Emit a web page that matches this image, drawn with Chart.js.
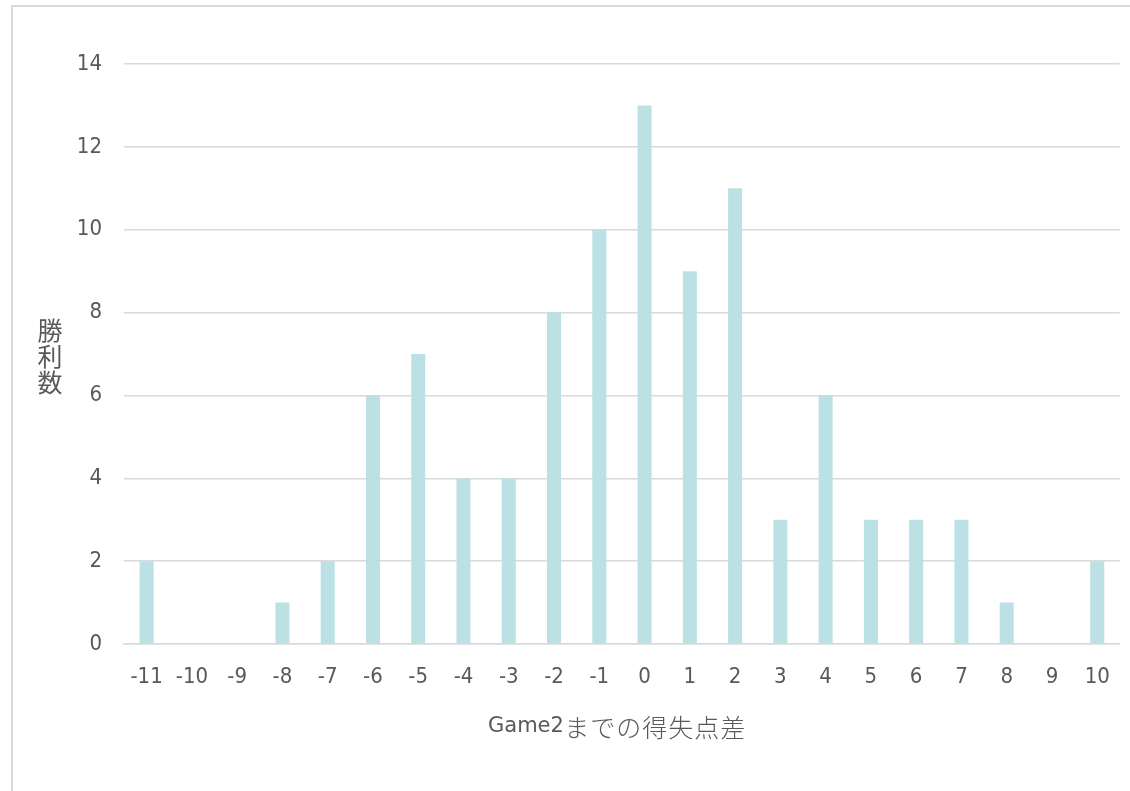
<!DOCTYPE html>
<html>
<head>
<meta charset="utf-8">
<script src="https://cdn.jsdelivr.net/npm/chart.js@4"></script>
<style>
  html, body { margin: 0; padding: 0; background: #ffffff; }
  #wrap { width: 1130px; height: 791px; position: relative; }
</style>
</head>
<body>
<div id="wrap"><canvas id="c" width="1130" height="791"></canvas></div>
<script>
// 得失点差ごとの勝利数
const categories = ['-11','-10','-9','-8','-7','-6','-5','-4','-3','-2','-1','0','1','2','3','4','5','6','7','8','9','10'];
const wins       = [2, 0, 0, 1, 2, 6, 7, 4, 4, 8, 10, 13, 9, 11, 3, 6, 3, 3, 3, 1, 0, 2];
const yTicks     = [0, 2, 4, 6, 8, 10, 12, 14];
const xTitleLatin = 'Game2';
const xTitleCjk   = 'までの得失点差';
const yTitle = ['勝', '利', '数'];

const TEXT = '#595959';
const GRID = '#d9d9d9';
const LATIN = '"DejaVu Sans Condensed", "DejaVu Sans", Verdana, sans-serif';
const LATIN_WIDE = '"DejaVu Sans", Verdana, sans-serif';
const CJK = '"Noto Sans CJK JP", "DejaVu Sans", sans-serif';

// outer frame and axis titles
const decor = {
  id: 'decor',
  beforeDraw(chart) {
    const ctx = chart.ctx;
    ctx.save();
    ctx.fillStyle = '#ffffff';
    ctx.fillRect(0, 0, chart.width, chart.height);
    ctx.strokeStyle = '#d9d9d9';
    ctx.lineWidth = 2;
    ctx.strokeRect(12, 6, chart.width + 20, chart.height + 20);
    ctx.restore();
  },
  afterDraw(chart) {
    const ctx = chart.ctx;
    const a = chart.chartArea;
    ctx.save();
    ctx.fillStyle = TEXT;
    ctx.textBaseline = 'middle';

    // x-axis title: Latin part, then evenly spaced CJK characters
    const cjkStep = 26;
    ctx.font = '21px ' + LATIN_WIDE;
    const latinW = ctx.measureText(xTitleLatin).width;
    const totalW = latinW + cjkStep * xTitleCjk.length;
    let x = (a.left + a.right) / 2 - 5 - totalW / 2;
    const ty = 727;
    ctx.textAlign = 'left';
    ctx.fillText(xTitleLatin, x, ty);
    x += latinW;
    ctx.font = '300 25px ' + CJK;
    ctx.textAlign = 'center';
    for (const ch of xTitleCjk) {
      ctx.fillText(ch, x + cjkStep / 2, ty);
      x += cjkStep;
    }

    // y-axis title stacked vertically
    ctx.font = '25px ' + CJK;
    const midY = (a.top + a.bottom) / 2;
    const step = 26;
    yTitle.forEach((ch, i) => {
      ctx.fillText(ch, 50, midY + (i - 1) * step + 2);
    });
    ctx.restore();
  }
};

new Chart(document.getElementById('c'), {
  type: 'bar',
  data: {
    labels: categories,
    datasets: [{
      data: wins,
      backgroundColor: '#bce1e4',
      borderWidth: 0,
      categoryPercentage: 1,
      barPercentage: 0.31
    }]
  },
  options: {
    responsive: false,
    animation: false,
    events: [],
    layout: { padding: { left: 12, top: 64, right: 8, bottom: 0 } },
    plugins: { legend: { display: false }, tooltip: { enabled: false } },
    scales: {
      x: {
        grid: { display: false, drawTicks: false },
        border: { display: true, color: GRID, width: 1.5 },
        ticks: { color: TEXT, font: { family: LATIN, size: 22 }, padding: 20, maxRotation: 0, autoSkip: false },
        afterFit(scale) { scale.height = 791 - 644; }
      },
      y: {
        min: 0, max: 14,
        afterBuildTicks(scale) { scale.ticks = yTicks.map(v => ({ value: v })); },
        grid: { color: GRID, lineWidth: 1.5, drawTicks: false },
        border: { display: false },
        ticks: { color: TEXT, font: { family: LATIN, size: 22 }, padding: 22 },
        afterFit(scale) { scale.width = 124 - 12; }
      }
    }
  },
  plugins: [decor]
});
</script>
</body>
</html>
